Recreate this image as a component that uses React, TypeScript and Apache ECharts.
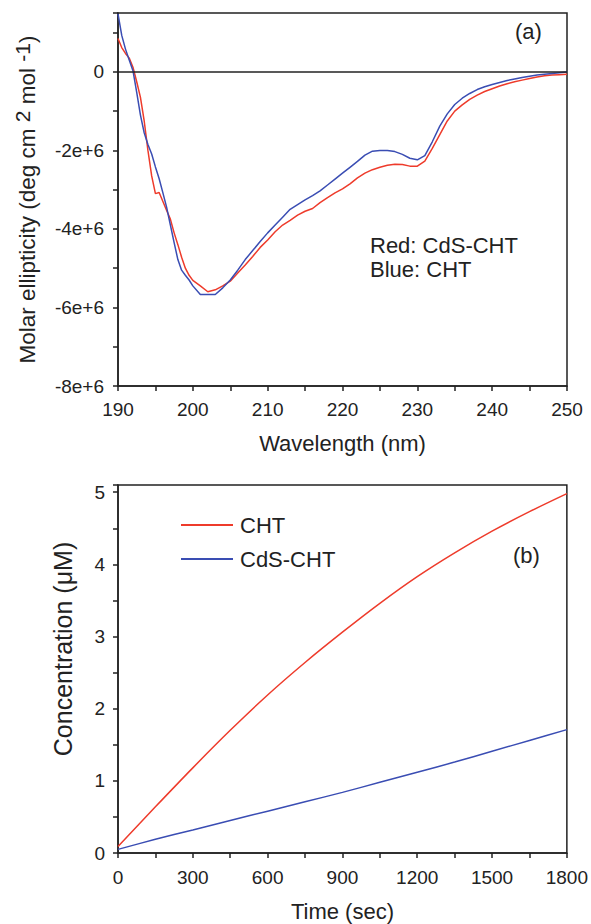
import React, { useEffect, useRef } from "react";
import * as echarts from "echarts";

// Panel (a): CD spectra, values in units of 1e6 deg cm^2 mol^-1
const wavelengths = [
  190, 190.5, 191, 191.5, 192, 192.5, 193, 193.5, 194, 194.5, 195, 195.5, 196, 196.5, 197, 197.5,
  198, 198.5, 199, 199.5, 200, 201, 202, 203, 204, 205, 206, 207, 208, 209, 210, 211, 212, 213,
  214, 215, 216, 217, 218, 219, 220, 221, 222, 223, 224, 225, 226, 227, 228, 229, 230, 231, 232,
  233, 234, 235, 236, 237, 238, 239, 240, 241, 242, 243, 244, 245, 246, 247, 248, 249, 250,
];
const cdsChtCD = [
  0.85, 0.62, 0.47, 0.35, 0.12, -0.25, -0.65, -1.25, -2.0, -2.65, -3.1, -3.07, -3.3, -3.53, -3.75,
  -4.1, -4.4, -4.72, -5.0, -5.18, -5.31, -5.45, -5.6, -5.55, -5.45, -5.33, -5.12, -4.92, -4.7,
  -4.47, -4.28, -4.07, -3.9, -3.78, -3.65, -3.55, -3.48, -3.33, -3.2, -3.08, -2.98, -2.85, -2.7,
  -2.58, -2.49, -2.43, -2.38, -2.35, -2.36, -2.4, -2.4, -2.27, -1.95, -1.6, -1.25, -1.0, -0.84,
  -0.7, -0.59, -0.5, -0.43, -0.36, -0.3, -0.25, -0.21, -0.17, -0.13, -0.1, -0.08, -0.07, -0.06,
];
const chtCD = [
  1.48, 0.93, 0.58, 0.3, 0.03, -0.52, -1.1, -1.55, -1.85, -2.09, -2.42, -2.72, -3.08, -3.45, -3.9,
  -4.35, -4.78, -5.05, -5.18, -5.3, -5.45, -5.67, -5.67, -5.67, -5.5, -5.3, -5.05, -4.78, -4.55,
  -4.32, -4.1, -3.9, -3.7, -3.5, -3.38, -3.26, -3.15, -3.03, -2.88, -2.73, -2.58, -2.43, -2.28,
  -2.12, -2.02, -2.0, -2.0, -2.03, -2.1, -2.2, -2.24, -2.13, -1.78, -1.38, -1.07, -0.83, -0.67,
  -0.55, -0.45, -0.38, -0.32, -0.27, -0.22, -0.18, -0.14, -0.11, -0.08, -0.06, -0.04, -0.02, 0.0,
];

// Panel (b): concentration vs time
const timesSec = [0, 150, 300, 450, 600, 750, 900, 1050, 1200, 1350, 1500, 1650, 1800];
const chtConc = [0.09, 0.64, 1.18, 1.7, 2.19, 2.64, 3.06, 3.46, 3.83, 4.16, 4.46, 4.73, 4.98];
const cdsChtConc = [0.05, 0.19, 0.32, 0.45, 0.58, 0.71, 0.84, 0.98, 1.12, 1.26, 1.41, 1.56, 1.71];

const legendNames = ["CHT", "CdS-CHT"];
const cdNotes = ["Red: CdS-CHT", "Blue: CHT"];

const RED = "#ee3b2b";
const BLUE = "#3a4db3";
const INK = "#222222";
const FONT = "'Liberation Sans', Arial, sans-serif";

function pairs(xs: number[], ys: number[]) {
  return xs.map((x, i) => [x, ys[i]]);
}

export default function App() {
  const ref = useRef<HTMLDivElement>(null);
  useEffect(() => {
    if (!ref.current) return;
    const chart = echarts.init(ref.current, null, { renderer: "svg" });
    const axisCommon = {
      axisLine: { show: true, onZero: false, lineStyle: { color: INK, width: 1.5 } },
      axisTick: { show: true, inside: false, length: 5, lineStyle: { color: INK, width: 1.5 } },
      splitLine: { show: false },
      nameTextStyle: { color: INK, fontSize: 22, fontFamily: FONT },
    };
    const labelStyle = { color: INK, fontSize: 19, fontFamily: FONT };
    chart.setOption({
      animation: false,
      backgroundColor: "#ffffff",
      textStyle: { fontFamily: FONT },
      grid: [
        { left: 118, top: 13, width: 449, height: 373, show: true, borderColor: INK, borderWidth: 1.5, backgroundColor: "transparent" },
        { left: 118, top: 485, width: 449, height: 368, show: true, borderColor: INK, borderWidth: 1.5, backgroundColor: "transparent" },
      ],
      xAxis: [
        {
          ...axisCommon,
          type: "value",
          gridIndex: 0,
          min: 190,
          max: 250,
          interval: 5,
          name: "Wavelength (nm)",
          nameLocation: "middle",
          nameGap: 46,
          axisLabel: {
            ...labelStyle,
            margin: 14,
            formatter: (v: number) => (v % 10 === 0 ? String(v) : ""),
          },
        },
        {
          ...axisCommon,
          type: "value",
          gridIndex: 1,
          min: 0,
          max: 1800,
          interval: 150,
          name: "Time (sec)",
          nameLocation: "middle",
          nameGap: 47,
          axisLabel: {
            ...labelStyle,
            margin: 15,
            formatter: (v: number) => (v % 300 === 0 ? String(v) : ""),
          },
        },
      ],
      yAxis: [
        {
          ...axisCommon,
          type: "value",
          gridIndex: 0,
          min: -8,
          max: 1.5,
          interval: 1,
          name: "Molar ellipticity (deg cm {sup|2} mol {sup|-1})",
          nameLocation: "middle",
          nameGap: 73,
          nameTextStyle: {
            color: INK,
            fontSize: 22.5,
            fontFamily: FONT,
            lineHeight: 32,
            rich: {
              sup: { color: INK, fontSize: 21, fontFamily: FONT, lineHeight: 18, verticalAlign: "top" },
            },
          },
          axisLabel: {
            ...labelStyle,
            margin: 14,
            formatter: (v: number) => {
              const r = Math.round(v);
              if (Math.abs(v - r) > 1e-9 || r % 2 !== 0) return "";
              return r === 0 ? "0" : r + "e+6";
            },
          },
        },
        {
          ...axisCommon,
          type: "value",
          gridIndex: 1,
          min: 0,
          max: 5.1,
          interval: 0.5,
          axisLabel: {
            ...labelStyle,
            margin: 13,
            formatter: (v: number) => {
              const r = Math.round(v);
              return Math.abs(v - r) < 1e-9 ? String(r) : "";
            },
          },
        },
      ],
      legend: {
        data: legendNames,
        orient: "vertical",
        left: 176,
        top: 509,
        itemWidth: 52,
        itemHeight: 14,
        itemGap: 12,
        icon: "path://M0,6 L52,6 L52,8 L0,8 Z",
        textStyle: { color: INK, fontSize: 22, fontFamily: FONT, lineHeight: 22, padding: [0, 0, 0, 2] },
        selectedMode: false,
      },
      graphic: [
        {
          type: "text",
          x: 63,
          y: 649,
          rotation: Math.PI / 2,
          style: {
            text: "Concentration (\u03bcM)",
            fill: INK,
            fontSize: 25,
            fontFamily: FONT,
            align: "center",
            verticalAlign: "middle",
          },
        },
        {
          type: "text",
          left: 515,
          top: 20,
          style: { text: "(a)", fill: INK, fontSize: 22, fontFamily: FONT },
        },
        {
          type: "text",
          left: 370,
          top: 233,
          style: { text: cdNotes.join("\n"), fill: INK, fontSize: 22, fontFamily: FONT, lineHeight: 24 },
        },
        {
          type: "text",
          left: 513,
          top: 544,
          style: { text: "(b)", fill: INK, fontSize: 22, fontFamily: FONT },
        },
      ],
      series: [
        {
          name: "CdS-CHT (CD)",
          type: "line",
          xAxisIndex: 0,
          yAxisIndex: 0,
          data: pairs(wavelengths, cdsChtCD),
          showSymbol: false,
          symbol: "none",
          lineStyle: { color: RED, width: 1.5 },
          itemStyle: { color: RED },
          z: 3,
          markLine: {
            silent: true,
            symbol: ["none", "none"],
            label: { show: false },
            lineStyle: { color: INK, width: 1.5, type: "solid" },
            data: [{ yAxis: 0 }],
          },
        },
        {
          name: "CHT (CD)",
          type: "line",
          xAxisIndex: 0,
          yAxisIndex: 0,
          data: pairs(wavelengths, chtCD),
          showSymbol: false,
          symbol: "none",
          lineStyle: { color: BLUE, width: 1.5 },
          itemStyle: { color: BLUE },
          z: 4,
        },
        {
          name: "CHT",
          type: "line",
          xAxisIndex: 1,
          yAxisIndex: 1,
          data: pairs(timesSec, chtConc),
          smooth: 0.3,
          showSymbol: false,
          symbol: "none",
          lineStyle: { color: RED, width: 1.5 },
          itemStyle: { color: RED },
        },
        {
          name: "CdS-CHT",
          type: "line",
          xAxisIndex: 1,
          yAxisIndex: 1,
          data: pairs(timesSec, cdsChtConc),
          smooth: 0.3,
          showSymbol: false,
          symbol: "none",
          lineStyle: { color: BLUE, width: 1.5 },
          itemStyle: { color: BLUE },
        },
      ],
    });
    return () => chart.dispose();
  }, []);
  return (
    <div
      ref={ref}
      style={{ position: "absolute", left: 0, top: 0, width: 591, height: 924, background: "#fff" }}
    />
  );
}
